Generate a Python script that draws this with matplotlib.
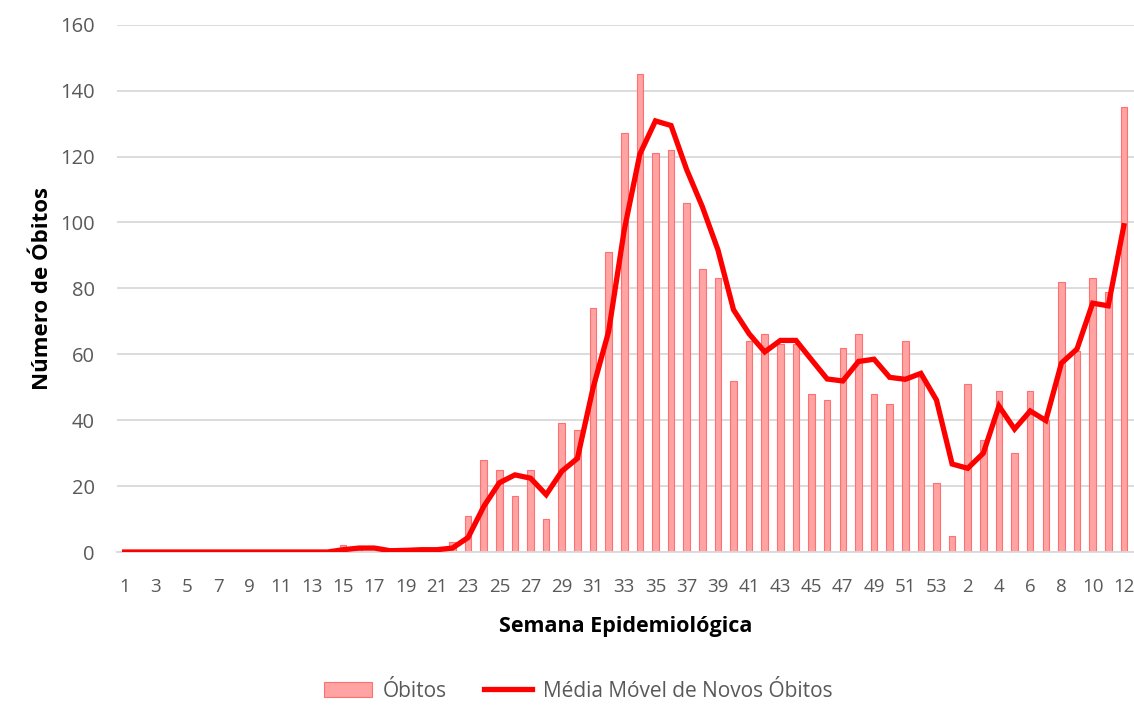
import matplotlib
matplotlib.use("Agg")
import matplotlib.pyplot as plt
import numpy as np

# Semanas epidemiológicas: 1..53 (ano 1) e 1..12 (ano 2)
semanas = [str(s) for s in range(1, 54)] + [str(s) for s in range(1, 13)]

# Óbitos por semana (barras)
obitos = [0, 0, 0, 0, 0, 0, 0, 0, 0, 0, 0, 0, 0, 0, 2, 1, 0, 0, 1, 0,
          1, 3, 11, 28, 25, 17, 25, 10, 39, 37, 74, 91, 127, 145, 121, 122, 106, 86, 83, 52,
          64, 66, 63, 63, 48, 46, 62, 66, 48, 45, 64, 53, 21,
          5, 51, 34, 49, 30, 49, 40, 82, 61, 83, 79, 135]

# Média móvel de novos óbitos (linha)
media_movel = [0, 0, 0, 0, 0, 0, 0, 0, 0, 0, 0, 0, 0, 0, 0.7, 1.2, 1.2, 0.4, 0.5, 0.7,
               0.7, 1.2, 4.4, 13.8, 21.0, 23.4, 22.4, 17.4, 24.5, 28.4, 49.7, 66.9, 97.7, 120.7, 130.8, 129.4, 116.0, 104.8, 91.7, 73.5,
               66.2, 60.7, 64.2, 64.2, 58.3, 52.5, 51.9, 57.8, 58.5, 53.0, 52.4, 54.2, 46.1,
               26.7, 25.4, 30.0, 44.3, 37.3, 42.8, 39.9, 57.3, 61.6, 75.5, 74.7, 99.0]

x = np.arange(len(semanas))

plt.rcParams['font.family'] = ['Open Sans', 'DejaVu Sans']

fig = plt.figure(figsize=(11.34, 7.05), dpi=100)
ax = fig.add_axes([0.103, 0.217, 0.897, 0.748])

bars = ax.bar(x, obitos, width=0.42, color="#FFA3A3", edgecolor="#FF7070", linewidth=0.8,
              label="Óbitos", zorder=2)
line, = ax.plot(x, media_movel, color="#FF0000", linewidth=3.8, solid_joinstyle="miter",
                label="Média Móvel de Novos Óbitos", zorder=3)

ax.set_xlim(-0.5, 64.65)
ax.set_ylim(0, 160)
ax.set_yticks(range(0, 161, 20))
ax.set_xticks(x[::2])
ax.set_xticklabels(semanas[::2], fontsize=13.5)

ax.grid(axis="y", color="#D9D9D9", linewidth=1.3, zorder=0)
ax.set_axisbelow(True)
for side in ["left", "right", "top"]:
    ax.spines[side].set_visible(False)
ax.spines["bottom"].set_color("#D9D9D9")
ax.spines["bottom"].set_linewidth(1.3)
ax.tick_params(axis="both", length=0, colors="#595959")
ax.tick_params(axis="y", labelsize=14.5, pad=16)
ax.tick_params(axis="x", pad=19)

ax.set_xlabel("Semana Epidemiológica", fontsize=15.5, fontweight="bold", color="black",
              labelpad=14)
ax.set_ylabel("Número de Óbitos", fontsize=16, fontweight="bold", color="black",
              labelpad=5)

fig.legend(handles=[bars, line], loc="lower center", bbox_to_anchor=(0.51, -0.022), ncol=2,
           frameon=False, fontsize=15, labelcolor="#595959", handlelength=2.3,
           columnspacing=1.8, handletextpad=0.5)

fig.savefig("out.png", dpi=100)
